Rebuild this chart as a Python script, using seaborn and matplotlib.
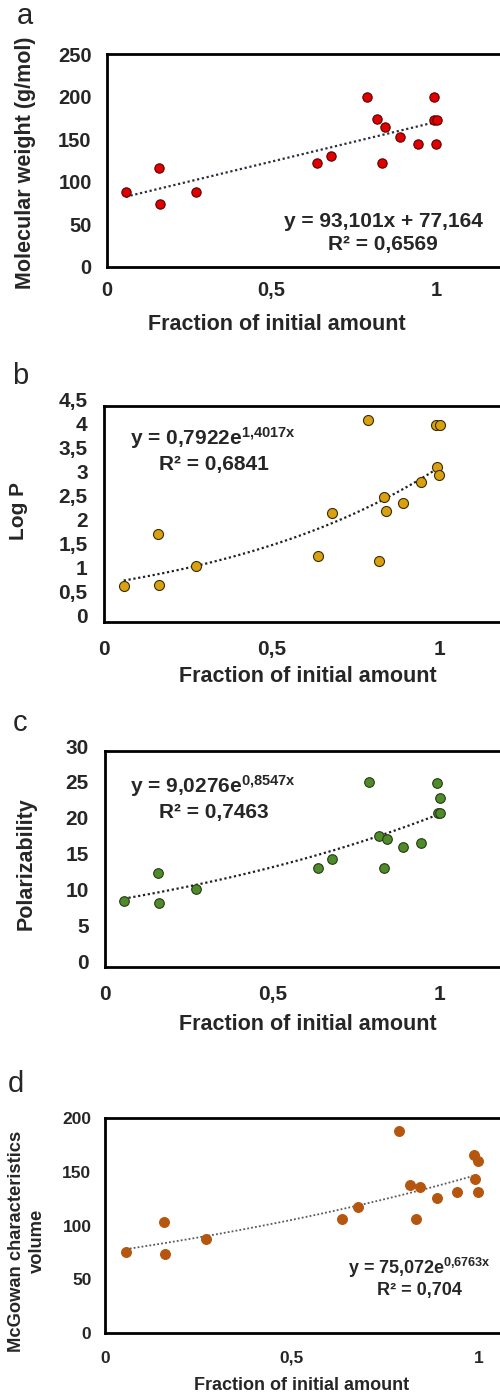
import matplotlib
matplotlib.use("Agg")
import matplotlib.pyplot as plt
import matplotlib.transforms as mtransforms
import numpy as np
import seaborn as sns

# panel a - molecular weight
frac_a = [0.057, 0.159, 0.161, 0.271, 0.637, 0.680, 0.789, 0.820, 0.845, 0.835,
          0.891, 0.944, 0.992, 0.992, 1.002, 1.000]
mw = [88, 116, 74, 88, 122, 130, 200, 174, 164, 122, 152, 144, 200, 172, 172, 144]

# panel b - log P
frac_b = [0.058, 0.160, 0.163, 0.274, 0.639, 0.681, 0.789, 0.820, 0.835, 0.843,
          0.891, 0.945, 0.994, 1.001, 0.992, 1.002]
logp = [0.74, 1.82, 0.77, 1.17, 1.37, 2.26, 4.21, 1.27, 2.60, 2.31,
        2.48, 2.92, 3.22, 3.06, 4.11, 4.11]

# panel c - polarizability
frac_c = [0.055, 0.159, 0.162, 0.272, 0.638, 0.680, 0.789, 0.820, 0.843, 0.835,
          0.891, 0.945, 0.992, 1.002, 0.995, 1.002]
polar = [9.2, 13.1, 8.9, 10.8, 13.7, 15.0, 25.7, 18.2, 17.8, 13.7,
         16.6, 17.2, 25.5, 23.4, 21.4, 21.4]

# panel d - McGowan volume
frac_d = [0.055, 0.158, 0.161, 0.269, 0.635, 0.678, 0.787, 0.818, 0.844, 0.833,
          0.888, 0.942, 0.988, 0.999, 0.991, 0.999]
mcgowan = [75, 103, 73, 87, 106, 117, 188, 138, 136, 106, 126, 131, 166, 160, 143, 131]

# trendline coefficients as printed on the chart
fit_a = (93.101, 77.164)      # linear
fit_b = (0.7922, 1.4017)      # exponential
fit_c = (9.0276, 0.8547)
fit_d = (75.072, 0.6763)

W, H = 500, 1395
sns.set_theme(style="white")
plt.rcParams["font.family"] = ["Liberation Sans", "DejaVu Sans"]
plt.rcParams["mathtext.fontset"] = "custom"
plt.rcParams["mathtext.rm"] = "Liberation Sans:bold"
plt.rcParams["mathtext.bf"] = "Liberation Sans:bold"
plt.rcParams["mathtext.default"] = "bf"

fig = plt.figure(figsize=(W / 100, H / 100), dpi=100)
fig.patch.set_facecolor("white")


def fx(x):
    return x / W


def fy(y):
    return 1 - y / H


def make_axes(left, right, top, bottom):
    return fig.add_axes([fx(left), fy(bottom), fx(right) - fx(left), (bottom - top) / H])


def comma(v):
    return ("%g" % v).replace(".", ",")


def style(ax, ylim, yticks, fs, xpad, ypad, yshift=0):
    ax.set_xlim(0, 1.2)
    ax.set_ylim(*ylim)
    ax.set_xticks([0, 0.5, 1])
    ax.set_xticklabels(["0", "0,5", "1"])
    ax.set_yticks(yticks)
    ax.set_yticklabels([comma(v) for v in yticks])
    ax.tick_params(axis="both", length=0, labelsize=fs)
    ax.tick_params(axis="x", pad=xpad)
    ax.tick_params(axis="y", pad=ypad)
    for lab in ax.get_xticklabels() + ax.get_yticklabels():
        lab.set_fontweight("bold")
    if yshift:
        off = mtransforms.ScaledTranslation(0, yshift / 100, fig.dpi_scale_trans)
        for lab in ax.get_yticklabels():
            lab.set_transform(lab.get_transform() + off)
    for sp in ax.spines.values():
        sp.set_color("black")
        sp.set_linewidth(2)
    ax.set_xlabel("")
    ax.set_ylabel("")
    ax.grid(False)


def scatter_fit(ax, xs, ys, yfit, color, edge, size, lcolor, lw):
    xline = np.linspace(min(xs), max(xs), 100)
    sns.lineplot(x=xline, y=yfit(xline), ax=ax, color=lcolor, linewidth=lw,
                 linestyle=(0, (1, 1.2)), zorder=2)
    sns.scatterplot(x=xs, y=ys, ax=ax, color=color, edgecolor=edge, s=size,
                    linewidth=0.8, zorder=3)


def ftext(x, y, s, size, **kw):
    fig.text(fx(x), fy(y), s, fontsize=size, fontweight="bold", **kw)


def panel_letter(x, y, s):
    fig.text(fx(x), fy(y), s, fontsize=21, ha="center", va="center")


# ---------- a ----------
ax = make_axes(107, 502, 54, 267)
scatter_fit(ax, frac_a, mw, lambda x: fit_a[0] * x + fit_a[1],
            "#e00000", "#5a0000", 45, "#2b2f3a", 1.6)
style(ax, (0, 250), [0, 50, 100, 150, 200, 250], 14.5, 10, 11)
panel_letter(25, 16, "a")
ftext(26, 163, "Molecular weight (g/mol)", 15.5, rotation=90, ha="center", va="center")
ftext(277, 325, "Fraction of initial amount", 15.5, ha="center", va="center")
ftext(383, 227, "y = 93,101x + 77,164", 15, ha="center", va="baseline")
ftext(383, 250, "R² = 0,6569", 15, ha="center", va="baseline")

# ---------- b ----------
ax = make_axes(104.3, 506, 406, 621.7)
scatter_fit(ax, frac_b, logp, lambda x: fit_b[0] * np.exp(fit_b[1] * x),
            "#d9a012", "#3a2c05", 52, "#222222", 1.6)
style(ax, (0, 4.5), [0, 0.5, 1, 1.5, 2, 2.5, 3, 3.5, 4, 4.5], 15, 13, 12, yshift=6)
panel_letter(20, 376, "b")
ftext(18, 511, "Log P", 15, rotation=90, ha="center", va="center")
ftext(308, 677, "Fraction of initial amount", 15.5, ha="center", va="center")
ftext(130, 445, "y = 0,7922e$^{1{,}4017x}$", 15, ha="left", va="baseline")
ftext(214, 470, "R² = 0,6841", 15, ha="center", va="baseline")

# ---------- c ----------
ax = make_axes(105.3, 506, 751, 966.7)
scatter_fit(ax, frac_c, polar, lambda x: fit_c[0] * np.exp(fit_c[1] * x),
            "#4f8a2b", "#263a16", 48, "#222222", 1.6)
style(ax, (0, 30), [0, 5, 10, 15, 20, 25, 30], 15, 13, 12, yshift=5)
panel_letter(20, 723, "c")
ftext(26, 864, "Polarizability", 15.5, rotation=90, ha="center", va="center")
ftext(308, 1025, "Fraction of initial amount", 15.5, ha="center", va="center")
ftext(130, 793, "y = 9,0276e$^{0{,}8547x}$", 15, ha="left", va="baseline")
ftext(214, 818, "R² = 0,7463", 15, ha="center", va="baseline")

# ---------- d ----------
ax = make_axes(105.3, 553, 1118.3, 1332.7)
scatter_fit(ax, frac_d, mcgowan, lambda x: fit_d[0] * np.exp(fit_d[1] * x),
            "#b5560f", "#b5560f", 50, "#555a60", 1.3)
style(ax, (0, 200), [0, 50, 100, 150, 200], 12.5, 13, 10)
panel_letter(16, 1084, "d")
ftext(27, 1241, "McGowan characteristics\nvolume", 13.2, rotation=90,
      ha="center", va="center", multialignment="center", linespacing=1.35)
ftext(302, 1385, "Fraction of initial amount", 13, ha="center", va="center")
ftext(348, 1274, "y = 75,072e$^{0{,}6763x}$", 13, ha="left", va="baseline")
ftext(419, 1295, "R² = 0,704", 13, ha="center", va="baseline")

fig.savefig("out.png", dpi=100, facecolor="white")
